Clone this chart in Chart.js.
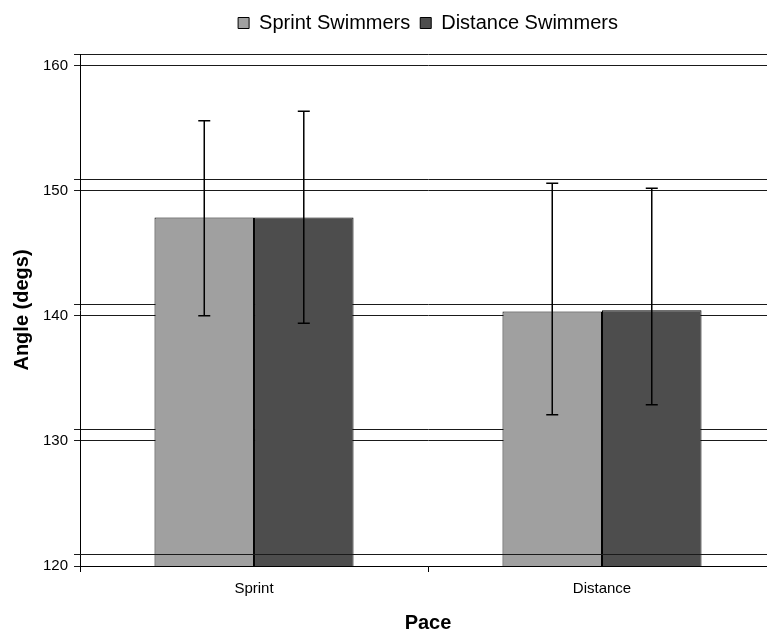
<!DOCTYPE html>
<html>
<head>
<meta charset="utf-8">
<script src="https://cdn.jsdelivr.net/npm/chart.js@4.4.1/dist/chart.umd.min.js"></script>
<style>
  html, body { margin: 0; padding: 0; background: #fff; overflow: hidden; }
  #wrap { width: 790px; height: 635px; }
</style>
</head>
<body>
<div id="wrap"><canvas id="barChart" width="790" height="635"></canvas></div>
<script>
// data
var paces = ["Sprint", "Distance"];
var sprintMeans = [147.85, 140.35];
var sprintUpper = [155.6, 150.6];
var sprintLower = [140.0, 132.1];
var distanceMeans = [147.85, 140.45];
var distanceUpper = [156.35, 150.2];
var distanceLower = [139.4, 132.9];
var yTicks = [120, 130, 140, 150, 160];

// the old excel chart draws every gridline twice, the back wall one a bit higher
var backShift = 0.93;
var FONT = "Arial, 'Liberation Sans', sans-serif";

// error bars on top of the bars (plus the lowest back line, which shows through them)
var errorBars = {
  id: 'errorBars',
  afterDatasetsDraw: function(chart) {
    var ctx = chart.ctx;
    var yScale = chart.scales.y;
    var a = chart.chartArea;
    var yb = Math.round(yScale.getPixelForValue(yTicks[0] + backShift)) + 0.5;
    ctx.save();
    ctx.strokeStyle = '#1a1a1a';
    ctx.lineWidth = 1;
    ctx.beginPath();
    ctx.moveTo(a.left, yb); ctx.lineTo(a.right, yb);
    ctx.stroke();
    ctx.restore();

    chart.data.datasets.forEach(function(ds, di) {
      var meta = chart.getDatasetMeta(di);
      meta.data.forEach(function(bar, i) {
        var top = yScale.getPixelForValue(ds.upper[i]);
        var bot = yScale.getPixelForValue(ds.lower[i]);
        ctx.save();
        ctx.strokeStyle = '#000';
        ctx.lineWidth = 1.5;
        ctx.beginPath();
        ctx.moveTo(bar.x, top); ctx.lineTo(bar.x, bot);
        ctx.moveTo(bar.x - 6, top); ctx.lineTo(bar.x + 6, top);
        ctx.moveTo(bar.x - 6, bot); ctx.lineTo(bar.x + 6, bot);
        ctx.stroke();
        ctx.restore();
      });
    });
  }
};

// legend sits centred over the plot, not over the canvas
var legendPlace = {
  id: 'legendPlace',
  afterLayout: function(chart) {
    var lg = chart.legend, a = chart.chartArea;
    var h = lg.bottom - lg.top;
    lg.left = a.left; lg.right = a.right; lg.width = a.right - a.left;
    lg.top = 3; lg.bottom = 3 + h;
  }
};

var ctxB = document.getElementById("barChart").getContext('2d');
var myBarChart = new Chart(ctxB, {
  type: 'bar',
  data: {
    labels: paces,
    datasets: [{
      label: "Sprint Swimmers",
      data: sprintMeans,
      upper: sprintUpper,
      lower: sprintLower,
      backgroundColor: "#a0a0a0",
      borderColor: "#000",
      borderWidth: 1
    }, {
      label: "Distance Swimmers",
      data: distanceMeans,
      upper: distanceUpper,
      lower: distanceLower,
      backgroundColor: "#4d4d4d",
      borderColor: "#000",
      borderWidth: 1
    }]
  },
  options: {
    responsive: false,
    animation: false,
    layout: { padding: { top: 14, right: 14, bottom: 0, left: 0 } },
    datasets: { bar: { categoryPercentage: 0.572, barPercentage: 1.0 } },
    plugins: {
      legend: {
        position: 'top',
        labels: {
          boxWidth: 11, boxHeight: 11, padding: 10,
          color: '#000',
          font: { family: FONT, size: 20 }
        }
      },
      tooltip: { enabled: false }
    },
    scales: {
      x: {
        grid: { display: true, drawOnChartArea: false, drawTicks: true, tickLength: 6, color: '#000' },
        border: { display: true, color: '#000', width: 1 },
        ticks: { color: '#000', padding: 8, font: { family: FONT, size: 15 } },
        title: {
          display: true, text: 'Pace', color: '#000',
          font: { family: FONT, size: 20, weight: 'bold' },
          padding: { top: 5, bottom: 0 }
        }
      },
      y: {
        min: yTicks[0],
        max: yTicks[yTicks.length - 1] + backShift,
        afterBuildTicks: function(axis) {
          var t = [];
          yTicks.forEach(function(v) {
            t.push({ value: v });
            t.push({ value: v + backShift });
          });
          axis.ticks = t;
        },
        grid: { color: '#1a1a1a', lineWidth: 1, drawTicks: true, tickLength: 6 },
        border: { display: true, color: '#000', width: 1 },
        ticks: {
          autoSkip: false,
          color: '#000',
          padding: 6,
          font: { family: FONT, size: 15 },
          callback: function(v) { return yTicks.indexOf(v) >= 0 ? String(v) : ''; }
        },
        title: {
          display: true, text: 'Angle (degs)', color: '#000',
          font: { family: FONT, size: 20, weight: 'bold' },
          padding: { top: 10, bottom: 3 }
        }
      }
    }
  },
  plugins: [errorBars, legendPlace]
});
</script>
</body>
</html>
